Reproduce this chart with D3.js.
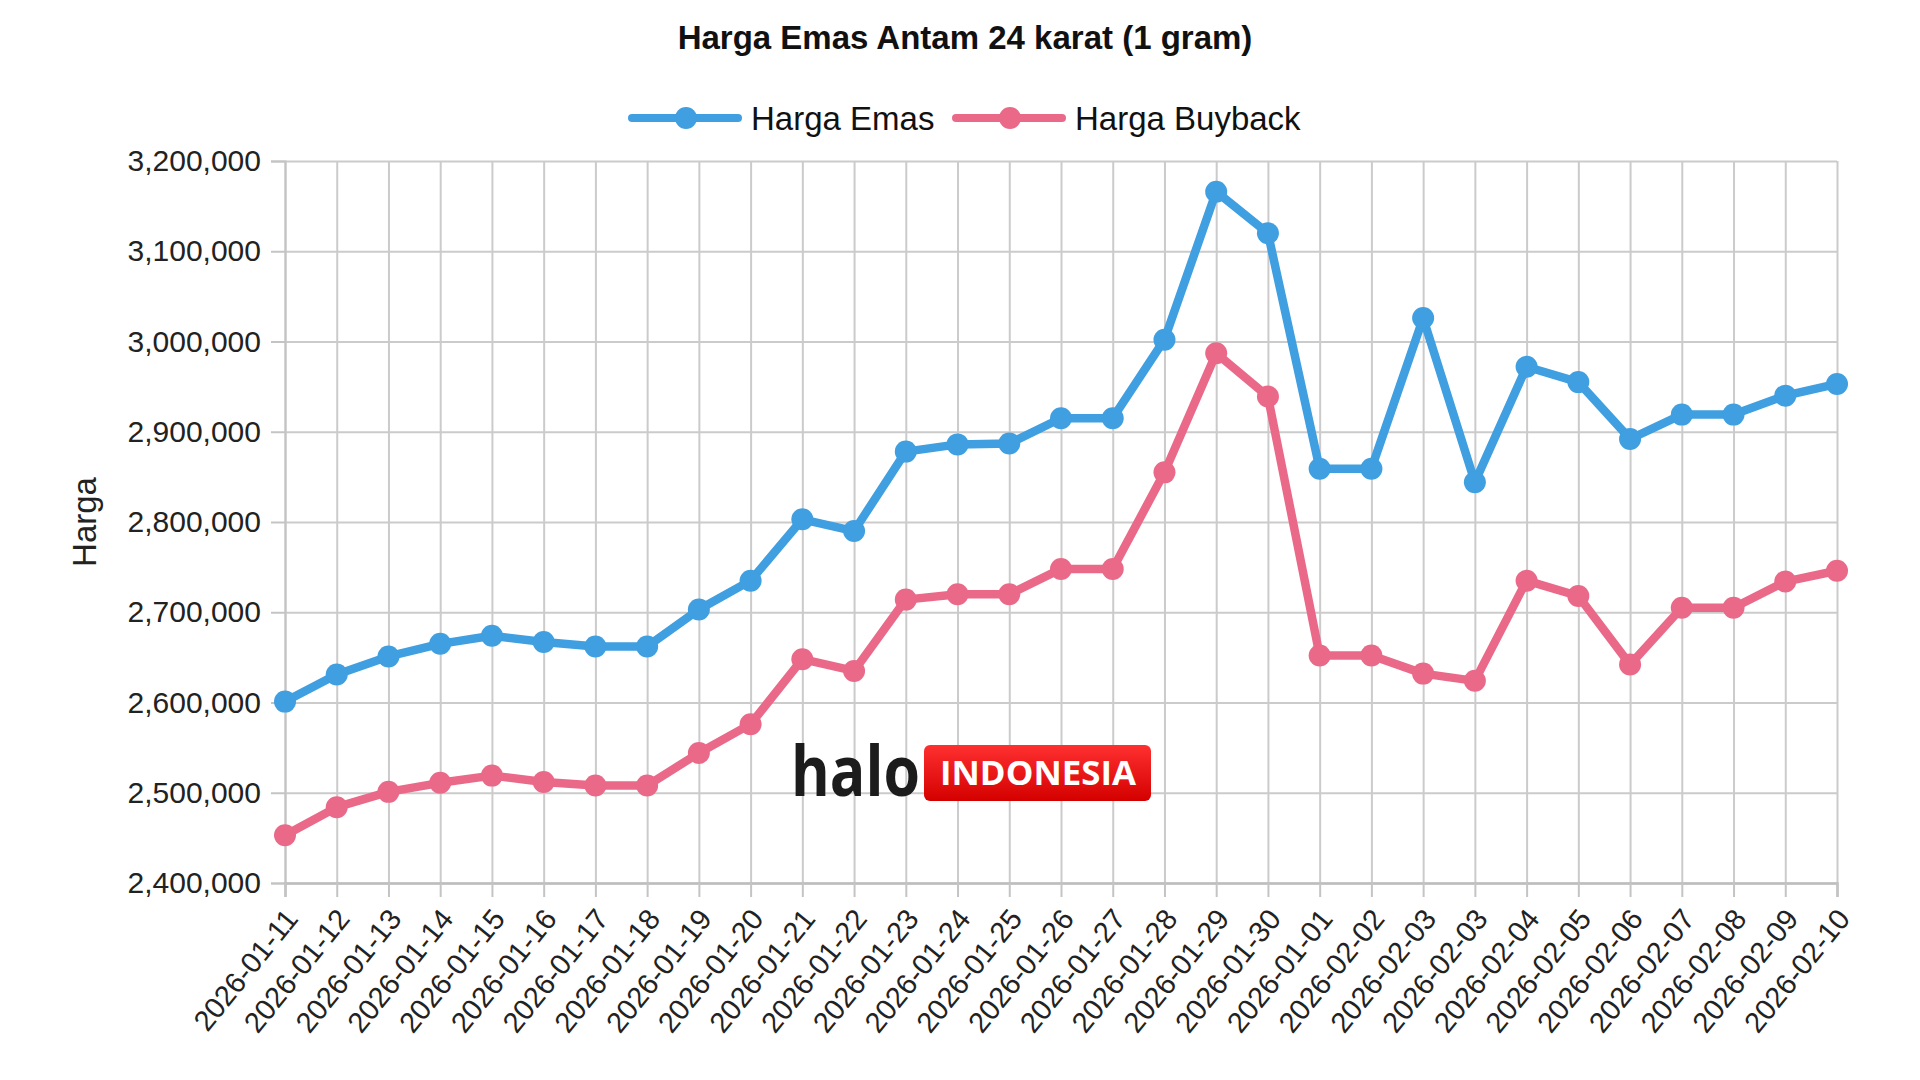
<!DOCTYPE html>
<html>
<head>
<meta charset="utf-8">
<title>Harga Emas Antam</title>
<script src="https://cdn.jsdelivr.net/npm/d3@7"></script>
<style>
  html, body { margin:0; padding:0; background:#fff; }
  svg { display:block; font-family:"Liberation Sans", Arial, sans-serif; }
</style>
</head>
<body>
<script>
// data
var categories = ["2026-01-11","2026-01-12","2026-01-13","2026-01-14","2026-01-15","2026-01-16",
  "2026-01-17","2026-01-18","2026-01-19","2026-01-20","2026-01-21","2026-01-22","2026-01-23",
  "2026-01-24","2026-01-25","2026-01-26","2026-01-27","2026-01-28","2026-01-29","2026-01-30",
  "2026-01-01","2026-02-02","2026-02-03","2026-02-03","2026-02-04","2026-02-05","2026-02-06",
  "2026-02-07","2026-02-08","2026-02-09","2026-02-10"];

var hargaEmas = [2601000,2631000,2651000,2665000,2674000,2667000,2662000,2662000,2703000,2735000,
  2803000,2790000,2878000,2886000,2887000,2915000,2915000,3002000,3166000,3120000,
  2859000,2859000,3026000,2844000,2972000,2955000,2892000,2919000,2919000,2940000,2953000];

var hargaBuyback = [2453000,2484000,2501000,2511000,2519000,2512000,2508000,2508000,2544000,2576000,
  2648000,2635000,2714000,2720000,2720000,2748000,2748000,2855000,2987000,2939000,
  2652000,2652000,2632000,2624000,2735000,2718000,2642000,2705000,2705000,2734000,2746000];

var yDomain = [2400000, 3200000];
var seriesNames = ["Harga Emas", "Harga Buyback"];
var seriesColors = ["#3f9fe0", "#ea6989"];

var W = 1920, H = 1080;
var mLeft = 285, mRight = 1837, mTop = 161, mBottom = 883;

var svg = d3.select("body").append("svg")
  .attr("width", W).attr("height", H);

var x = d3.scalePoint()
  .domain(d3.range(categories.length))
  .range([mLeft, mRight]);

var y = d3.scaleLinear()
  .domain(yDomain)
  .range([mBottom, mTop]);

// grid
svg.append("g")
  .attr("transform", "translate(" + mLeft + ",0)")
  .call(d3.axisLeft(y).ticks(8).tickSize(-(mRight - mLeft)).tickFormat(""))
  .call(function (g) {
    g.select(".domain").remove();
    g.selectAll("line").attr("stroke", "#cbcbcb").attr("stroke-width", 2);
  });

svg.append("g")
  .attr("transform", "translate(0," + mBottom + ")")
  .call(d3.axisBottom(x).tickSize(-(mBottom - mTop)).tickFormat(""))
  .call(function (g) {
    g.select(".domain").remove();
    g.selectAll("line").attr("stroke", "#cbcbcb").attr("stroke-width", 2);
  });

// y axis
svg.append("g")
  .attr("transform", "translate(" + mLeft + ",0)")
  .call(d3.axisLeft(y).ticks(8).tickSize(14).tickPadding(10).tickFormat(d3.format(",")))
  .call(function (g) {
    g.select(".domain").attr("stroke", "#c4c4c4").attr("stroke-width", 2);
    g.selectAll("line").attr("stroke", "#c4c4c4").attr("stroke-width", 2);
    g.selectAll("text").attr("font-size", 30).attr("fill", "#222")
      .attr("font-family", "Liberation Sans, Arial, sans-serif");
  });

// x axis
svg.append("g")
  .attr("transform", "translate(0," + mBottom + ")")
  .call(d3.axisBottom(x).tickSize(14).tickFormat(function (i) { return categories[i]; }))
  .call(function (g) {
    g.select(".domain").attr("stroke", "#bdbdbd").attr("stroke-width", 2.5);
    g.selectAll("line").attr("stroke", "#c4c4c4").attr("stroke-width", 2);
    g.selectAll("text")
      .attr("font-size", 29).attr("fill", "#222")
      .attr("font-family", "Liberation Sans, Arial, sans-serif")
      .attr("y", 0).attr("dy", "0.35em")
      .attr("text-anchor", "end")
      .attr("transform", "translate(6,30) rotate(-51)");
  });

// lines and points
var line = d3.line()
  .x(function (d, i) { return x(i); })
  .y(function (d) { return y(d); });

[hargaEmas, hargaBuyback].forEach(function (values, s) {
  svg.append("path")
    .datum(values)
    .attr("d", line)
    .attr("fill", "none")
    .attr("stroke", seriesColors[s])
    .attr("stroke-width", 8.5)
    .attr("stroke-linejoin", "round");

  svg.append("g").selectAll("circle")
    .data(values)
    .enter().append("circle")
    .attr("cx", function (d, i) { return x(i); })
    .attr("cy", function (d) { return y(d); })
    .attr("r", 11)
    .attr("fill", seriesColors[s]);
});

// title
svg.append("text")
  .attr("x", 965).attr("y", 37)
  .attr("text-anchor", "middle").attr("dominant-baseline", "central")
  .attr("font-size", 33).attr("font-weight", "bold").attr("fill", "#111")
  .text("Harga Emas Antam 24 karat (1 gram)");

// y axis title
svg.append("text")
  .attr("transform", "translate(84," + ((mTop + mBottom) / 2) + ") rotate(-90)")
  .attr("text-anchor", "middle").attr("dominant-baseline", "central")
  .attr("font-size", 33).attr("fill", "#222")
  .text("Harga");

// legend
var legendX = [632, 956];
seriesNames.forEach(function (name, s) {
  var lg = svg.append("g").attr("transform", "translate(" + legendX[s] + ",118)");
  lg.append("line").attr("x1", 0).attr("x2", 106).attr("y1", 0).attr("y2", 0)
    .attr("stroke", seriesColors[s]).attr("stroke-width", 8).attr("stroke-linecap", "round");
  lg.append("circle").attr("cx", 54).attr("cy", 0).attr("r", 11).attr("fill", seriesColors[s]);
  lg.append("text").attr("x", 119).attr("y", 0)
    .attr("dominant-baseline", "central")
    .attr("font-size", 33).attr("fill", "#111")
    .text(name);
});

// watermark
var wm = svg.append("g");
var grad = svg.append("defs").append("linearGradient")
  .attr("id", "red").attr("x1", 0).attr("x2", 0).attr("y1", 0).attr("y2", 1);
grad.append("stop").attr("offset", "0%").attr("stop-color", "#ff3030");
grad.append("stop").attr("offset", "100%").attr("stop-color", "#d40000");

wm.append("text")
  .attr("x", 791).attr("y", 796)
  .attr("font-family", "Open Sans, sans-serif").attr("font-weight", "bold")
  .attr("font-size", 70).attr("fill", "#1c1c1c")
  .attr("textLength", 129).attr("lengthAdjust", "spacingAndGlyphs")
  .text("halo");
wm.append("rect")
  .attr("x", 924).attr("y", 745).attr("width", 227).attr("height", 56).attr("rx", 6)
  .attr("fill", "url(#red)");
wm.append("text")
  .attr("x", 1038).attr("y", 785)
  .attr("text-anchor", "middle")
  .attr("font-family", "Open Sans, sans-serif").attr("font-weight", "bold")
  .attr("font-size", 34).attr("fill", "#fff")
  .attr("textLength", 196).attr("lengthAdjust", "spacingAndGlyphs")
  .text("INDONESIA");
</script>
</body>
</html>
